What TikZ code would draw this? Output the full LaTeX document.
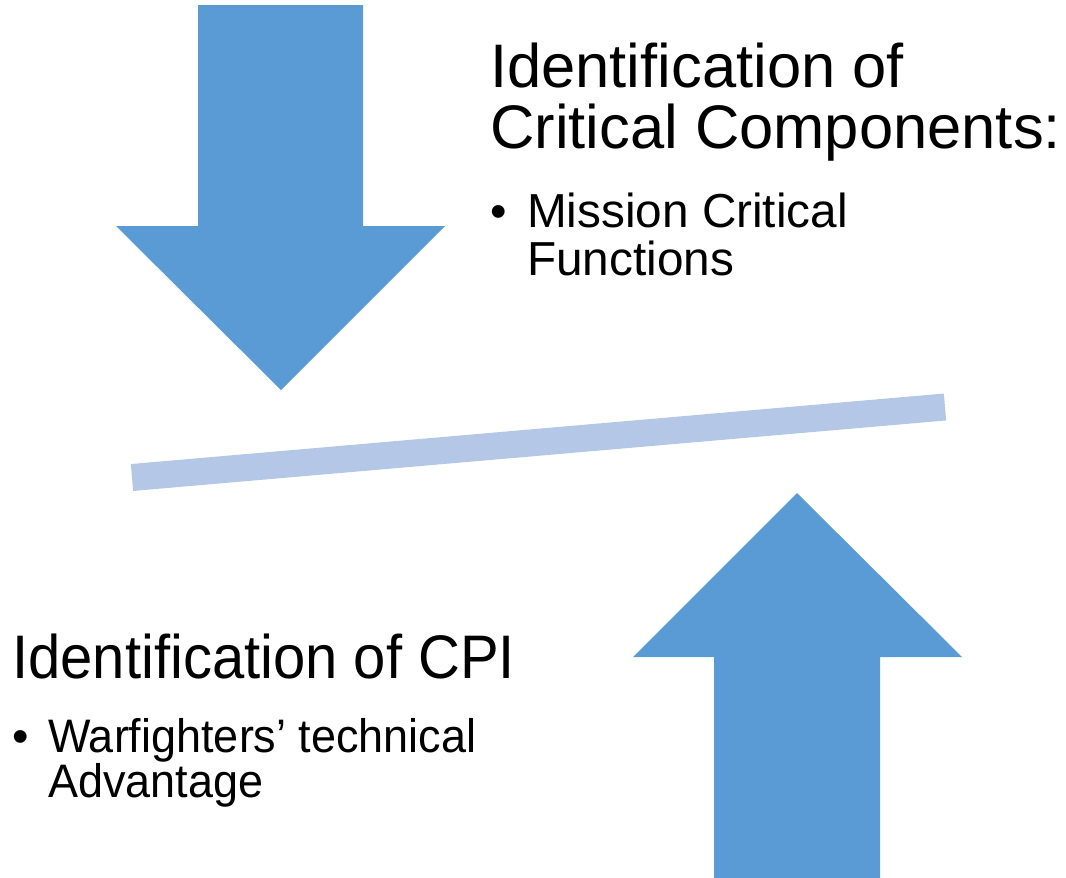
\documentclass[tikz,border=0pt]{standalone}
\usepackage{fontspec}
\setmainfont{Liberation Sans}
\definecolor{arrowblue}{HTML}{5B9BD5}
\definecolor{barblue}{HTML}{B4C7E7}
\tikzset{
  bigarrow/.style={fill=arrowblue, draw=none},
  heading/.style={anchor=base west, inner sep=0pt, font=\fontsize{61.5}{61}\selectfont},
  bullettext/.style={anchor=base west, inner sep=0pt, font=\fontsize{47.7}{48}\selectfont},
  bulletmark/.style={anchor=base west, inner sep=0pt, font=\fontsize{47}{48}\selectfont},
}
\begin{document}
\begin{tikzpicture}[x=1pt, y=-1pt]
\useasboundingbox (0,0) rectangle (1066,878);
% down arrow
\fill[bigarrow] (198,5) -- (363,5) -- (363,226) -- (445,226) -- (281,390) -- (116,226) -- (198,226) -- cycle;
% up arrow
\fill[bigarrow] (714,878) -- (880,878) -- (880,657) -- (962,657) -- (797,493) -- (633,657) -- (714,657) -- cycle;
% bar
\coordinate (barL) at (132,477.5);
\coordinate (barR) at (945,407);
\draw[barblue, line width=27pt] (barL) -- (barR);
% top text
\node[heading] (t1) at (490,87) {Identification of};
\node[heading] (t2) at (490,148) {Critical Components:};
\node[bulletmark] (b1) at (490,227) {•};
\node[bullettext] (t3) at (527,227) {Mission Critical};
\node[bullettext] (t4) at (527,275) {Functions};
% bottom text
\node[heading] (s1) at (12,678) {\scalebox{0.943}[1]{Identification of CPI}};
\node[bulletmark] (b2) at (12,752) {•};
\node[bullettext, font=\fontsize{47}{48}\selectfont] (s2) at (48,752) {\scalebox{0.957}[1]{Warfighters’ technical}};
\node[bullettext, font=\fontsize{47}{48}\selectfont] (s3) at (48,797) {\scalebox{0.957}[1]{Advantage}};
\end{tikzpicture}
\end{document}
